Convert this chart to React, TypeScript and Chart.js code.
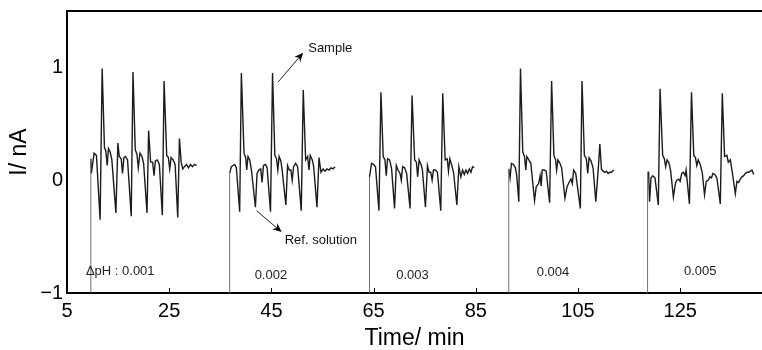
import { useEffect, useRef } from "react";
import { Chart, registerables } from "chart.js";

Chart.register(...registerables);

const xTicks = [5, 25, 45, 65, 85, 105, 125];
const yTicks = [-1, 0, 1];

const seg1Time = [9.66, 9.77, 10.30, 10.76, 11.48, 11.88, 12.33, 12.60, 12.86, 13.11, 13.45, 13.78, 14.57, 14.96, 15.22, 15.61, 15.86, 16.14, 16.45, 16.85, 17.57, 17.91, 18.36, 18.69, 18.95, 19.28, 19.68, 19.99, 20.66, 20.97, 21.36, 21.76, 22.03, 22.29, 22.68, 23.07, 23.66, 24.00, 24.51, 24.84, 25.10, 25.37, 25.77, 26.16, 26.67, 27.00, 27.34, 27.65, 27.99, 28.38, 28.77, 29.16, 29.56, 29.95, 30.34];
const seg1Current = [0.19, 0.06, 0.24, 0.22, -0.35, 0.99, 0.29, 0.26, 0.13, 0.28, 0.25, 0.18, -0.29, 0.33, 0.21, 0.19, 0.06, 0.20, 0.21, 0.18, -0.32, 0.96, 0.27, 0.23, 0.11, 0.24, 0.21, 0.15, -0.29, 0.44, 0.16, 0.16, 0.04, 0.17, 0.18, 0.14, -0.31, 0.88, 0.22, 0.20, 0.10, 0.20, 0.18, 0.14, -0.33, 0.37, 0.16, 0.10, 0.12, 0.14, 0.11, 0.14, 0.12, 0.14, 0.13];

const seg2Time = [36.83, 37.16, 37.48, 37.81, 38.14, 38.79, 39.12, 39.64, 39.97, 40.17, 40.42, 40.76, 41.09, 41.87, 42.19, 42.52, 42.92, 43.17, 43.45, 43.84, 44.16, 44.82, 45.22, 45.67, 46.00, 46.26, 46.51, 46.85, 47.10, 47.83, 48.16, 48.48, 48.81, 49.07, 49.34, 49.74, 50.13, 50.84, 51.23, 51.70, 52.09, 52.35, 52.60, 53.00, 53.27, 53.92, 54.31, 54.70, 55.10, 55.49, 55.88, 56.28, 56.67, 57.06, 57.45];
const seg2Current = [0.06, 0.12, 0.13, 0.14, 0.11, -0.28, 0.95, 0.24, 0.20, 0.09, 0.21, 0.18, 0.09, -0.24, 0.06, 0.09, 0.10, -0.02, 0.13, 0.14, 0.11, -0.28, 0.95, 0.22, 0.19, 0.09, 0.21, 0.17, 0.09, -0.22, 0.13, 0.09, 0.09, 0.00, 0.12, 0.15, 0.12, -0.27, 0.80, 0.18, 0.21, 0.09, 0.22, 0.18, 0.12, -0.24, 0.20, 0.07, 0.10, 0.08, 0.10, 0.09, 0.11, 0.10, 0.12];

const seg3Time = [64.20, 64.59, 64.98, 65.37, 66.04, 66.43, 66.88, 67.22, 67.47, 67.73, 68.12, 68.52, 69.10, 69.44, 69.77, 70.17, 70.42, 70.68, 71.07, 71.46, 72.13, 72.52, 73.03, 73.37, 73.62, 73.90, 74.35, 74.55, 75.14, 75.53, 75.86, 76.18, 76.45, 76.71, 77.10, 77.49, 78.14, 78.53, 79.00, 79.40, 79.65, 79.91, 80.30, 80.64, 81.29, 81.68, 82.07, 82.41, 82.74, 83.06, 83.39, 83.72, 84.04, 84.37, 84.70];
const seg3Current = [0.03, 0.15, 0.14, 0.12, -0.27, 0.78, 0.21, 0.18, 0.04, 0.19, 0.18, 0.10, -0.25, 0.13, 0.09, 0.06, 0.00, 0.12, 0.11, 0.06, -0.25, 0.75, 0.18, 0.16, 0.03, 0.18, 0.13, 0.09, -0.24, 0.13, 0.07, 0.07, 0.00, 0.09, 0.09, 0.07, -0.27, 0.77, 0.18, 0.19, 0.08, 0.19, 0.13, 0.07, -0.22, 0.12, 0.03, 0.09, 0.05, 0.09, 0.06, 0.10, 0.07, 0.12, 0.11];

const seg4Time = [91.44, 91.70, 91.97, 92.36, 92.75, 93.01, 93.41, 93.74, 94.19, 94.52, 94.78, 94.98, 95.37, 95.76, 96.49, 96.81, 97.28, 97.59, 97.79, 97.99, 98.38, 98.77, 99.44, 99.83, 100.28, 100.62, 100.81, 101.07, 101.46, 101.79, 102.44, 102.84, 103.23, 103.62, 103.88, 104.15, 104.55, 105.45, 105.78, 106.24, 106.63, 106.90, 107.16, 107.55, 107.94, 108.48, 108.99, 109.27, 109.58, 109.91, 110.24, 110.56, 110.89, 111.22, 111.54, 112.00];
const seg4Current = [0.10, 0.02, 0.15, 0.14, 0.11, 0.04, -0.19, 0.99, 0.25, 0.21, 0.09, 0.21, 0.18, 0.15, -0.18, -0.06, -0.03, 0.04, -0.05, 0.09, 0.09, 0.08, -0.20, 0.88, 0.22, 0.18, 0.09, 0.18, 0.15, 0.11, -0.16, -0.06, -0.02, 0.01, -0.03, 0.09, 0.06, -0.25, 0.88, 0.22, 0.19, 0.06, 0.20, 0.17, 0.11, -0.19, 0.12, 0.32, 0.10, 0.08, 0.07, 0.08, 0.06, 0.07, 0.07, 0.09];

const seg5Time = [118.61, 118.81, 119.00, 119.28, 119.59, 120.06, 120.71, 121.05, 121.56, 121.89, 122.15, 122.43, 122.82, 123.13, 123.66, 124.05, 124.31, 124.70, 124.98, 125.29, 125.62, 125.96, 126.15, 126.80, 127.20, 127.65, 127.98, 128.24, 128.52, 128.91, 129.30, 129.75, 130.09, 130.48, 130.79, 131.13, 131.38, 131.78, 132.17, 132.84, 133.23, 133.68, 134.13, 134.41, 134.80, 135.19, 135.78, 136.09, 136.43, 136.76, 137.07, 137.41, 137.74, 138.06, 138.39, 138.73, 139.04, 139.37];
const seg5Current = [0.07, 0.07, -0.19, 0.02, 0.04, 0.02, -0.22, 0.81, 0.22, 0.19, 0.12, 0.18, 0.15, 0.08, -0.15, -0.03, 0.00, 0.01, -0.01, 0.06, 0.07, 0.04, 0.09, -0.21, 0.78, 0.22, 0.20, 0.13, 0.18, 0.14, 0.07, -0.13, -0.01, 0.00, 0.03, 0.02, 0.06, 0.05, 0.02, -0.21, 0.77, 0.21, 0.22, 0.16, 0.18, 0.07, -0.12, -0.01, -0.02, 0.01, 0.03, 0.04, 0.06, 0.07, 0.07, 0.08, 0.09, 0.05];

const segments: [number[], number[]][] = [
  [seg1Time, seg1Current],
  [seg2Time, seg2Current],
  [seg3Time, seg3Current],
  [seg4Time, seg4Current],
  [seg5Time, seg5Current],
];

const phLabels = ["ΔpH : 0.001", "0.002", "0.003", "0.004", "0.005"];
const phLabelTime = [8.7, 44.9, 72.6, 100.1, 128.9];
const phLabelCurrent = [-0.81, -0.84, -0.84, -0.82, -0.81];

const FONT = "'Liberation Sans', Arial, Helvetica, sans-serif";

export default function App() {
  const ref = useRef<HTMLCanvasElement>(null);

  useEffect(() => {
    document.body.style.margin = "0";
    const datasets: any[] = [];
    segments.forEach(([t, c]) => {
      datasets.push({
        data: [{ x: t[0], y: -1 }, { x: t[0], y: c[0] }],
        borderColor: "#707070",
        borderWidth: 1,
        showLine: true,
        pointRadius: 0,
        fill: false,
      });
      datasets.push({
        data: t.map((x, i) => ({ x, y: c[i] })),
        borderColor: "#1c1c1c",
        borderWidth: 1.4,
        showLine: true,
        pointRadius: 0,
        tension: 0,
        fill: false,
      });
    });

    const annot = {
      id: "annot",
      afterDraw(chart: any) {
        const { ctx, chartArea, scales } = chart;
        const xs = scales.x;
        const ys = scales.y;
        ctx.save();
        // top frame line
        ctx.strokeStyle = "#000";
        ctx.lineWidth = 2;
        ctx.beginPath();
        ctx.moveTo(chartArea.left - 1, chartArea.top);
        ctx.lineTo(chartArea.right, chartArea.top);
        ctx.stroke();
        // inward tick marks on x axis
        ctx.lineWidth = 1;
        xTicks.forEach((v) => {
          if (v === xs.min) return;
          const px = Math.round(xs.getPixelForValue(v)) + 0.5;
          ctx.beginPath();
          ctx.moveTo(px, chartArea.bottom);
          ctx.lineTo(px, chartArea.bottom - 5);
          ctx.stroke();
        });
        // pH labels
        ctx.fillStyle = "#222";
        ctx.font = `13px ${FONT}`;
        ctx.textBaseline = "middle";
        phLabels.forEach((s, i) => {
          ctx.textAlign = i === 0 ? "left" : "center";
          ctx.fillText(s, xs.getPixelForValue(phLabelTime[i]), ys.getPixelForValue(phLabelCurrent[i]));
        });
        // arrows
        const arrow = (t1: number, v1: number, t2: number, v2: number) => {
          const x1 = xs.getPixelForValue(t1), y1 = ys.getPixelForValue(v1);
          const x2 = xs.getPixelForValue(t2), y2 = ys.getPixelForValue(v2);
          const a = Math.atan2(y2 - y1, x2 - x1);
          const L = 9, W = 4;
          ctx.strokeStyle = "#222";
          ctx.lineWidth = 1;
          ctx.beginPath();
          ctx.moveTo(x1, y1);
          ctx.lineTo(x2 - Math.cos(a) * L * 0.6, y2 - Math.sin(a) * L * 0.6);
          ctx.stroke();
          ctx.fillStyle = "#000";
          ctx.beginPath();
          ctx.moveTo(x2, y2);
          ctx.lineTo(x2 - Math.cos(a) * L + Math.sin(a) * W, y2 - Math.sin(a) * L - Math.cos(a) * W);
          ctx.lineTo(x2 - Math.cos(a) * L * 0.7, y2 - Math.sin(a) * L * 0.7);
          ctx.lineTo(x2 - Math.cos(a) * L - Math.sin(a) * W, y2 - Math.sin(a) * L + Math.cos(a) * W);
          ctx.closePath();
          ctx.fill();
        };
        arrow(46.3, 0.87, 51.2, 1.13);
        arrow(42.1, -0.27, 47.0, -0.46);
        ctx.fillStyle = "#111";
        ctx.textAlign = "left";
        ctx.fillText("Sample", xs.getPixelForValue(52.2), ys.getPixelForValue(1.17));
        ctx.fillText("Ref. solution", xs.getPixelForValue(47.6), ys.getPixelForValue(-0.53));
        ctx.restore();
      },
    };

    const chart = new Chart(ref.current as HTMLCanvasElement, {
      type: "scatter",
      data: { datasets },
      options: {
        animation: false,
        responsive: false,
        devicePixelRatio: 1,
        layout: { padding: { top: 11, right: 0, left: 0, bottom: 0 } },
        plugins: { legend: { display: false }, tooltip: { enabled: false } },
        scales: {
          x: {
            type: "linear",
            min: 5,
            max: 141,
            afterBuildTicks: (s: any) => {
              s.ticks = xTicks.map((v) => ({ value: v }));
            },
            afterFit: (s: any) => {
              s.height = 57;
              s.paddingLeft = 0;
              s.paddingRight = 0;
            },
            grid: { display: false, drawTicks: false },
            border: { display: true, color: "#000", width: 2 },
            ticks: {
              color: "#000",
              font: { family: FONT, size: 20 },
              padding: 6,
              maxRotation: 0,
              autoSkip: false,
            },
            title: {
              display: true,
              text: "Time/ min",
              color: "#000",
              font: { family: FONT, size: 23, lineHeight: 1 },
              padding: { top: 0, bottom: 0 },
            },
          },
          y: {
            type: "linear",
            min: -1,
            max: 1.5,
            afterBuildTicks: (s: any) => {
              s.ticks = yTicks.map((v) => ({ value: v }));
            },
            afterFit: (s: any) => {
              s.width = 67;
              s.paddingTop = 0;
              s.paddingBottom = 0;
            },
            grid: { display: false, drawTicks: false },
            border: { display: true, color: "#000", width: 2 },
            ticks: {
              color: "#000",
              font: { family: FONT, size: 20 },
              padding: 4,
              callback: (v: any) => (v < 0 ? "\u2212" + Math.abs(v) : String(v)),
            },
            title: {
              display: true,
              text: "I/ nA",
              color: "#000",
              font: { family: FONT, size: 23, lineHeight: 1 },
              padding: { top: 8, bottom: 0 },
            },
          },
        },
      },
      plugins: [annot],
    } as any);
    return () => chart.destroy();
  }, []);

  return (
    <div style={{ width: 762, height: 350 }}>
      <canvas ref={ref} width={762} height={350} />
    </div>
  );
}
